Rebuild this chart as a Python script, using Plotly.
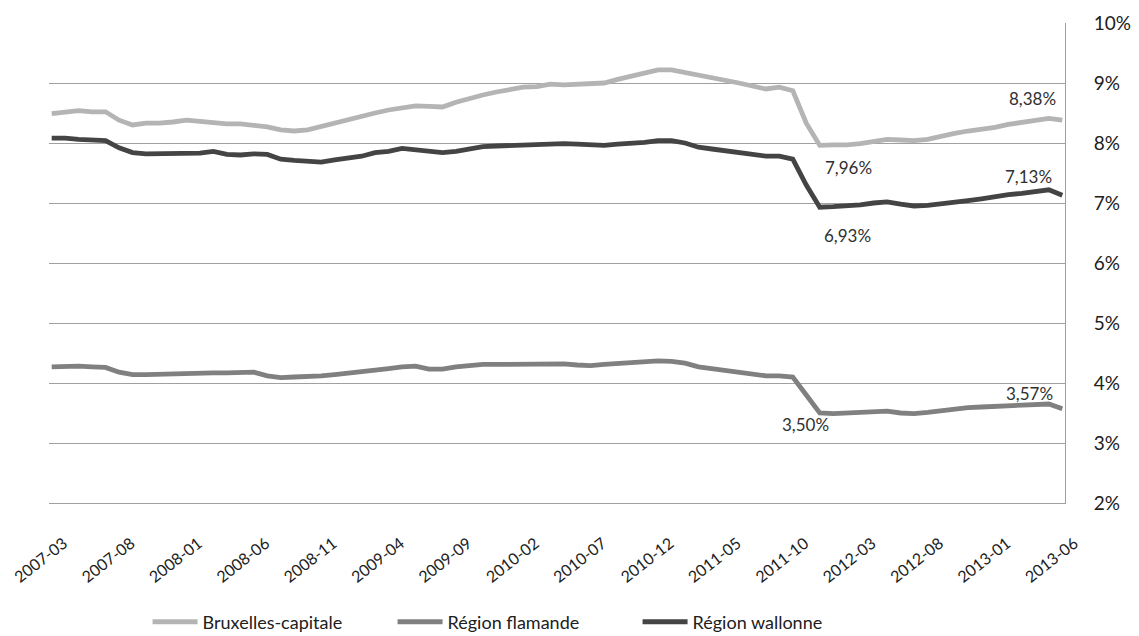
import plotly.graph_objects as go

months = []
for y in range(2007, 2014):
    for m in range(1, 13):
        if (y == 2007 and m < 3) or (y == 2013 and m > 6):
            continue
        months.append(f"{y}-{m:02d}")

bruxelles = [8.49, 8.51, 8.54, 8.52, 8.52, 8.38, 8.30, 8.33, 8.33, 8.35,
             8.38, 8.36, 8.33, 8.32, 8.32, 8.30, 8.27, 8.22, 8.20, 8.22,
             8.28, 8.33, 8.38, 8.45, 8.50, 8.55, 8.59, 8.62, 8.61, 8.60,
             8.68, 8.75, 8.80, 8.85, 8.89, 8.93, 8.94, 8.98, 8.97, 8.98,
             8.97, 9.00, 9.06, 9.12, 9.18, 9.22, 9.22, 9.18, 9.12, 9.08,
             9.05, 9.00, 8.95, 8.90, 8.93, 8.87, 8.33, 7.96, 7.97, 7.97,
             7.99, 8.03, 8.06, 8.05, 8.04, 8.06, 8.12, 8.16, 8.20, 8.22,
             8.26, 8.31, 8.35, 8.38, 8.41, 8.38]

wallonne = [8.08, 8.08, 8.06, 8.05, 8.04, 7.92, 7.84, 7.82, 7.82, 7.82,
            7.82, 7.83, 7.86, 7.81, 7.80, 7.82, 7.81, 7.73, 7.71, 7.70,
            7.68, 7.72, 7.74, 7.78, 7.84, 7.86, 7.91, 7.89, 7.85, 7.84,
            7.86, 7.90, 7.94, 7.95, 7.96, 7.98, 7.99, 8.00, 7.99, 7.98,
            7.96, 7.96, 7.98, 7.99, 8.01, 8.04, 8.04, 8.00, 7.93, 7.90,
            7.87, 7.85, 7.80, 7.78, 7.78, 7.73, 7.30, 6.93, 6.94, 6.95,
            6.97, 7.00, 7.02, 6.98, 6.95, 6.96, 6.98, 7.01, 7.04, 7.07,
            7.11, 7.14, 7.16, 7.19, 7.22, 7.13]

flamande = [4.27, 4.28, 4.28, 4.27, 4.26, 4.18, 4.14, 4.14, 4.15, 4.16,
            4.16, 4.17, 4.17, 4.17, 4.18, 4.18, 4.12, 4.09, 4.10, 4.10,
            4.12, 4.14, 4.16, 4.19, 4.21, 4.24, 4.27, 4.28, 4.23, 4.23,
            4.27, 4.30, 4.31, 4.31, 4.31, 4.31, 4.32, 4.33, 4.32, 4.30,
            4.29, 4.31, 4.33, 4.35, 4.36, 4.37, 4.36, 4.33, 4.27, 4.24,
            4.22, 4.18, 4.14, 4.12, 4.12, 4.10, 3.80, 3.50, 3.49, 3.50,
            3.52, 3.54, 3.53, 3.50, 3.49, 3.51, 3.54, 3.57, 3.59, 3.60,
            3.61, 3.62, 3.62, 3.64, 3.65, 3.57]

series_names = ["Bruxelles-capitale", "Région flamande", "Région wallonne"]
colors = ["#B4B4B4", "#808080", "#444444"]
tick_months = months[::5]
y_ticks = [2, 3, 4, 5, 6, 7, 8, 9, 10]
y_ticktext = [f"{v}%" for v in y_ticks]

FONT = "Lato, 'Open Sans', sans-serif"

fig = go.Figure()
for name, vals, col in zip(series_names, [bruxelles, flamande, wallonne], colors):
    fig.add_trace(go.Scatter(
        x=months, y=vals, name=name, mode="lines",
        line=dict(color=col, width=4.8),
    ))

def fmt(v):
    return f"{v:.2f}".replace(".", ",") + "%"

i_min = 57
labels = [
    (months[-1], bruxelles[-1], "right", -4, 22),
    (months[i_min], bruxelles[i_min], "left", 3, -22),
    (months[-1], wallonne[-1], "right", -8, 19),
    (months[i_min], wallonne[i_min], "left", 2, -28),
    (months[i_min], flamande[i_min], "center", -14, -11),
    (months[-1], flamande[-1], "right", -7, 15),
]
for x, y, xa, xs, ys in labels:
    fig.add_annotation(x=x, y=y, text=fmt(y), showarrow=False,
                       xanchor=xa, yanchor="middle", xshift=xs, yshift=ys,
                       font=dict(family=FONT, size=17, color="#303030"))

# page has an 8px body margin: figure is 1131x628 placed at (8, 8)
fig.update_layout(
    width=1131, height=628,
    margin=dict(l=41, r=74, t=15, b=133, autoexpand=False),
    paper_bgcolor="white", plot_bgcolor="white",
    font=dict(family=FONT, color="#202020"),
    showlegend=True,
    legend=dict(orientation="h", x=0.097, xanchor="left", y=-0.248, yanchor="middle",
                font=dict(family=FONT, size=18, color="#202020"),
                itemwidth=45, entrywidth=185, entrywidthmode="pixels",
                tracegroupgap=0),
)
fig.update_xaxes(
    type="category", range=[-0.2, len(months) - 0.8],
    tickmode="array", tickvals=tick_months, ticktext=tick_months,
    tickangle=-38, tickfont=dict(family=FONT, size=16, color="#202020"),
    ticklabelstandoff=24, ticklabelshift=12,
    showgrid=False, showline=True, linecolor="#A0A0A0", linewidth=1,
    ticks="", zeroline=False, automargin=False,
)
fig.update_yaxes(
    side="right", range=[2, 10], tickmode="array",
    tickvals=y_ticks, ticktext=y_ticktext,
    tickfont=dict(family=FONT, size=19, color="#202020"),
    showgrid=True, gridcolor="#A0A0A0", gridwidth=1,
    showline=True, linecolor="#A0A0A0", linewidth=1,
    ticks="", ticklabelstandoff=24, zeroline=False, automargin=False,
)

fig.write_html("out.html")
